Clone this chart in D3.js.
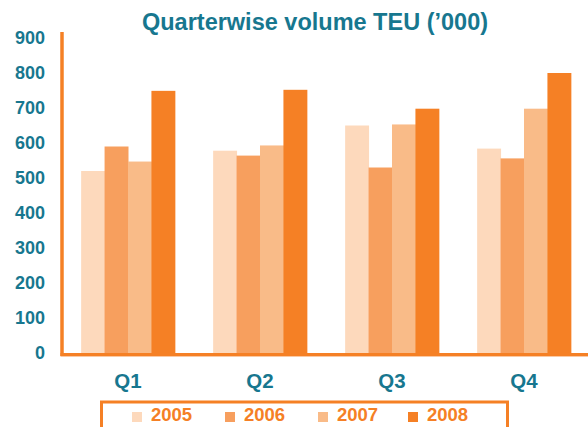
<!DOCTYPE html>
<html>
<head>
<meta charset="utf-8">
<script src="https://cdn.jsdelivr.net/npm/d3@7"></script>
<style>
  body { margin: 0; background: #fff; }
  svg { display: block; font-family: "Liberation Sans", Arial, sans-serif; font-weight: bold; }
</style>
</head>
<body>
<div id="chart"></div>
<script>
// data
var quarters = ["Q1", "Q2", "Q3", "Q4"];
var years = ["2005", "2006", "2007", "2008"];
var v2005 = [520, 578, 650, 584];
var v2006 = [590, 564, 530, 556];
var v2007 = [547, 593, 653, 698];
var v2008 = [749, 752, 698, 800];
var yTicks = [0, 100, 200, 300, 400, 500, 600, 700, 800, 900];

var series = [v2005, v2006, v2007, v2008];
var colors = ["#fdd9bc", "#f79f5e", "#f9bb88", "#f58025"];
var teal = "#17778f";
var orange = "#f58025";

var width = 588, height = 427;
var x0 = 62, x1 = 590, yBase = 353, yTop = 38;

var svg = d3.select("#chart")
  .append("svg")
    .attr("width", width)
    .attr("height", height);

// title
svg.append("text")
  .attr("x", 315)
  .attr("y", 30)
  .attr("text-anchor", "middle")
  .attr("fill", teal)
  .style("font-size", "23.5px")
  .text("Quarterwise volume TEU (\u2019000)");

// scales
var x = d3.scaleBand()
  .domain(quarters)
  .range([x0, x1])
  .paddingInner(0.29)
  .paddingOuter(0.145);

var xSub = d3.scaleBand()
  .domain(years)
  .range([0, x.bandwidth()]);

var y = d3.scaleLinear()
  .domain([0, 900])
  .range([yBase, yTop]);

// rows for the grouped bars
var rows = quarters.map(function(q, i) {
  return years.map(function(yr, j) {
    return {quarter: q, year: yr, value: series[j][i], color: colors[j]};
  });
});

svg.append("g")
  .selectAll("g")
  .data(rows)
  .enter()
  .append("g")
    .attr("transform", function(d) { return "translate(" + x(d[0].quarter) + ",0)"; })
  .selectAll("rect")
  .data(function(d) { return d; })
  .enter().append("rect")
    .attr("x", function(d) { return xSub(d.year); })
    .attr("width", xSub.bandwidth() + 0.5)
    .attr("y", function(d) { return y(d.value); })
    .attr("height", function(d) { return yBase - y(d.value); })
    .attr("fill", function(d) { return d.color; });

// y axis labels
var yAxis = svg.append("g")
  .attr("transform", "translate(" + x0 + ",0)")
  .call(d3.axisLeft(y).tickValues(yTicks).tickSize(0).tickPadding(17).tickFormat(d3.format("d")));
yAxis.select(".domain").remove();
yAxis.selectAll("text")
  .attr("fill", teal)
  .style("font-size", "18px")
  .style("font-family", "'Liberation Sans', Arial, sans-serif")
  .style("font-weight", "bold");

// x axis labels
var xAxis = svg.append("g")
  .attr("transform", "translate(0," + yBase + ")")
  .call(d3.axisBottom(x).tickSize(0).tickPadding(20));
xAxis.select(".domain").remove();
xAxis.selectAll("text")
  .attr("fill", teal)
  .style("font-size", "20.5px")
  .style("font-family", "'Liberation Sans', Arial, sans-serif")
  .style("font-weight", "bold");

// axis lines
svg.append("line")
  .attr("x1", x0).attr("x2", x0)
  .attr("y1", 32).attr("y2", yBase + 3)
  .attr("stroke", orange)
  .attr("stroke-width", 3.5);
svg.append("line")
  .attr("x1", x0 - 1.5).attr("x2", width)
  .attr("y1", yBase + 1.5).attr("y2", yBase + 1.5)
  .attr("stroke", orange)
  .attr("stroke-width", 3);
svg.append("line")
  .attr("x1", x0 - 1.5).attr("x2", width)
  .attr("y1", yBase + 3.5).attr("y2", yBase + 3.5)
  .attr("stroke", "#fbc9a3")
  .attr("stroke-width", 1);

// legend
svg.append("rect")
  .attr("x", 101.5)
  .attr("y", 402)
  .attr("width", 406)
  .attr("height", 40)
  .attr("fill", "none")
  .attr("stroke", orange)
  .attr("stroke-width", 3);

var legendX = [132, 225, 318, 408];
var leg = svg.append("g")
  .selectAll("g")
  .data(years)
  .enter()
  .append("g")
    .attr("transform", function(d, i) { return "translate(" + legendX[i] + ",0)"; });
leg.append("rect")
  .attr("x", 0)
  .attr("y", 412)
  .attr("width", 10)
  .attr("height", 10)
  .attr("fill", function(d, i) { return colors[i]; });
leg.append("text")
  .attr("x", 19)
  .attr("y", 421)
  .attr("fill", orange)
  .style("font-size", "18.5px")
  .text(function(d) { return d; });
</script>
</body>
</html>
